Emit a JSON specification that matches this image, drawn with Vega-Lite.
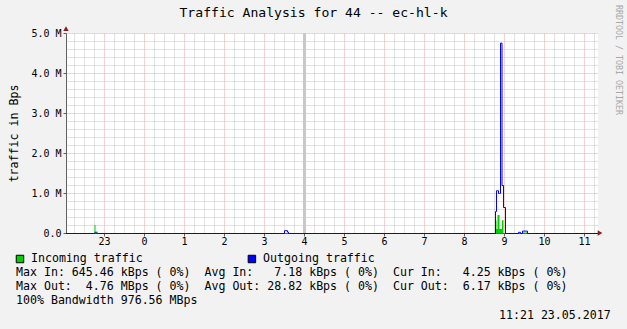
{
  "$schema": "https://vega.github.io/schema/vega-lite/v6.json",
  "width": 532,
  "height": 200,
  "autosize": {"type": "none"},
  "padding": {"left": 66, "top": 33, "right": 29, "bottom": 96},
  "background": "#f2f2f2",
  "config": {"view": {"fill": "#ffffff", "stroke": null}, "font": "DejaVu Sans Mono"},
  "datasets": {
    "traffic": [
      {"t": -1.95, "in": 0, "out": 0},
      {"t": -1.2375, "in": 200000, "out": 15000},
      {"t": -1.2125, "in": 40000, "out": 10000},
      {"t": -1.1625, "in": 0, "out": 0},
      {"t": 3.5125, "in": 0, "out": 70000},
      {"t": 3.5875, "in": 0, "out": 35000},
      {"t": 3.6125, "in": 0, "out": 0},
      {"t": 8.7875, "in": 310000, "out": 550000},
      {"t": 8.8125, "in": 100000, "out": 1070000},
      {"t": 8.8375, "in": 450000, "out": 1070000},
      {"t": 8.8625, "in": 450000, "out": 1000000},
      {"t": 8.8875, "in": 100000, "out": 1000000},
      {"t": 8.9125, "in": 100000, "out": 4760000},
      {"t": 8.95, "in": 320000, "out": 1200000},
      {"t": 8.9875, "in": 0, "out": 650000},
      {"t": 9.0375, "in": 0, "out": 0},
      {"t": 9.3625, "in": 0, "out": 30000},
      {"t": 9.4125, "in": 0, "out": 0},
      {"t": 9.4625, "in": 10000, "out": 60000},
      {"t": 9.5875, "in": 0, "out": 0},
      {"t": 11.35, "in": 4250, "out": 6170}
    ],
    "band": [{"start": 3.975, "end": 4.05}],
    "legendText": [
      {"col": 2.14, "line": 0, "text": "Incoming traffic"},
      {"col": 35.3, "line": 0, "text": "Outgoing traffic"},
      {"col": 0, "line": 1, "text": "Max In: 645.46 kBps ( 0%)\u00a0\u00a0Avg In:\u00a0\u00a0\u00a07.18 kBps ( 0%)\u00a0\u00a0Cur In:\u00a0\u00a0\u00a04.25 kBps ( 0%)"},
      {"col": 0, "line": 2, "text": "Max Out:\u00a0\u00a04.76 MBps ( 0%)\u00a0\u00a0Avg Out: 28.82 kBps ( 0%)\u00a0\u00a0Cur Out:\u00a0\u00a06.17 kBps ( 0%)"},
      {"col": 0, "line": 3, "text": "100% Bandwidth 976.56 MBps"},
      {"col": 69, "line": 4.07, "text": "11:21 23.05.2017"}
    ],
    "legendBoxes": [
      {"col": 0.57, "line": 0, "series": "Incoming traffic"},
      {"col": 33.7, "line": 0, "series": "Outgoing traffic"}
    ],
    "titleText": [{"col": 42.5, "line": -17.57, "text": "Traffic Analysis for 44 -- ec-hl-k"}],
    "watermark": [{"col": 86.0, "line": -18.14, "text": "RRDTOOL / TOBI OETIKER"}]
  },
  "layer": [
    {
      "data": {"name": "band"},
      "mark": {"type": "rect", "color": "#c8c8c8"},
      "encoding": {
        "x": {"field": "start", "type": "quantitative", "scale": {"domain": [-1.95, 11.35], "nice": false, "zero": false},
          "axis": {"orient": "bottom", "values": [-1.75,-1.5,-1.25,-0.75,-0.5,-0.25,0.25,0.5,0.75,1.25,1.5,1.75,2.25,2.5,2.75,3.25,3.5,3.75,4.25,4.5,4.75,5.25,5.5,5.75,6.25,6.5,6.75,7.25,7.5,7.75,8.25,8.5,8.75,9.25,9.5,9.75,10.25,10.5,10.75,11.25],
            "grid": true, "gridColor": "#c4c4c4", "gridDash": [1, 1], "labels": false, "ticks": false, "domain": false, "title": null}},
        "x2": {"field": "end"},
        "y": {"datum": 0, "type": "quantitative", "scale": {"domain": [0, 5000000], "nice": false},
          "axis": {"orient": "left", "values": [200000,400000,600000,800000,1200000,1400000,1600000,1800000,2200000,2400000,2600000,2800000,3200000,3400000,3600000,3800000,4200000,4400000,4600000,4800000],
            "grid": true, "gridColor": "#c4c4c4", "gridDash": [1, 1], "labels": false, "ticks": false, "domain": false, "title": null}},
        "y2": {"datum": 5000000}
      }
    },
    {
      "data": {"name": "traffic"},
      "mark": {"type": "area", "interpolate": "step-after", "color": "#00cf00"},
      "encoding": {
        "x": {"field": "t", "type": "quantitative", "scale": {"domain": [-1.95, 11.35], "nice": false, "zero": false},
          "axis": {"orient": "bottom", "values": [-1,0,1,2,3,4,5,6,7,8,9,10,11],
            "labelExpr": "datum.value < 0 ? datum.value + 24 : datum.value",
            "grid": true, "gridColor": "#e9a6a6", "gridDash": [1, 1],
            "domainColor": "#606060", "tickColor": "#606060", "tickSize": 3,
            "labelFont": "DejaVu Sans Mono", "labelFontSize": 10, "labelColor": "#000000",
            "labelPadding": 0, "labelDx": 2, "labelFlush": false, "labelOverlap": false, "title": null}},
        "y": {"field": "in", "type": "quantitative", "scale": {"domain": [0, 5000000], "nice": false},
          "axis": {"orient": "left", "values": [0,1000000,2000000,3000000,4000000,5000000],
            "labelExpr": "datum.value == 0 ? '0.0' : format(datum.value / 1000000, '.1f') + ' M'",
            "grid": true, "gridColor": "#e9a6a6", "gridDash": [1, 1],
            "domainColor": "#606060", "tickColor": "#606060", "tickSize": 3,
            "labelFont": "DejaVu Sans Mono", "labelFontSize": 10, "labelColor": "#000000", "labelPadding": 2,
            "title": "traffic in Bps", "titleFont": "DejaVu Sans Mono", "titleFontSize": 11.6, "titleFontWeight": "normal",
            "titleColor": "#000000", "titlePadding": 11}}
      }
    },
    {
      "data": {"name": "traffic"},
      "mark": {"type": "line", "interpolate": "step-after", "color": "#0000ff", "strokeWidth": 1, "yOffset": 0.5},
      "encoding": {
        "x": {"field": "t", "type": "quantitative", "scale": {"domain": [-1.95, 11.35], "nice": false, "zero": false}, "axis": null},
        "y": {"field": "out", "type": "quantitative", "scale": {"domain": [0, 5000000], "nice": false}, "axis": null}
      }
    },
    {
      "data": {"values": [{"axis": "y"}]},
      "mark": {"type": "point", "shape": "triangle-up", "filled": true, "color": "#8b1a1a", "size": 28, "opacity": 1},
      "encoding": {
        "x": {"datum": -1.95, "type": "quantitative", "scale": {"domain": [-1.95, 11.35], "nice": false, "zero": false}, "axis": null},
        "y": {"datum": 5110000, "type": "quantitative", "scale": {"domain": [0, 5000000], "nice": false}, "axis": null}
      }
    },
    {
      "data": {"values": [{"axis": "x"}]},
      "mark": {"type": "point", "shape": "triangle-right", "filled": true, "color": "#8b1a1a", "size": 28, "opacity": 1},
      "encoding": {
        "x": {"datum": 11.4, "type": "quantitative", "scale": {"domain": [-1.95, 11.35], "nice": false, "zero": false}, "axis": null},
        "y": {"datum": 0, "type": "quantitative", "scale": {"domain": [0, 5000000], "nice": false}, "axis": null}
      }
    },
    {
      "data": {"name": "legendText"},
      "mark": {"type": "text", "align": "left", "baseline": "middle", "font": "DejaVu Sans Mono", "fontSize": 11.6, "color": "#000000"},
      "encoding": {
        "x": {"field": "col", "type": "quantitative", "scale": {"domain": [0, 85], "range": [-50, 545], "zero": false, "nice": false}, "axis": null},
        "y": {"field": "line", "type": "quantitative", "scale": {"domain": [0, 4], "range": [226, 282], "zero": false, "nice": false}, "axis": null},
        "text": {"field": "text"}
      }
    },
    {
      "data": {"name": "legendBoxes"},
      "mark": {"type": "point", "shape": "square", "filled": true, "size": 56, "stroke": "#000000", "strokeWidth": 1, "opacity": 1},
      "encoding": {
        "x": {"field": "col", "type": "quantitative", "scale": {"domain": [0, 85], "range": [-50, 545], "zero": false, "nice": false}, "axis": null},
        "y": {"field": "line", "type": "quantitative", "scale": {"domain": [0, 4], "range": [226, 282], "zero": false, "nice": false}, "axis": null},
        "fill": {"field": "series", "type": "nominal", "scale": {"domain": ["Incoming traffic", "Outgoing traffic"], "range": ["#00cf00", "#0000ff"]}, "legend": null}
      }
    },
    {
      "data": {"name": "titleText"},
      "mark": {"type": "text", "align": "center", "baseline": "middle", "font": "DejaVu Sans Mono", "fontSize": 13.1, "color": "#000000"},
      "encoding": {
        "x": {"field": "col", "type": "quantitative", "scale": {"domain": [0, 85], "range": [-50, 545], "zero": false, "nice": false}, "axis": null},
        "y": {"field": "line", "type": "quantitative", "scale": {"domain": [0, 4], "range": [226, 282], "zero": false, "nice": false}, "axis": null},
        "text": {"field": "text"}
      }
    },
    {
      "data": {"name": "watermark"},
      "mark": {"type": "text", "align": "left", "baseline": "middle", "angle": 90, "font": "DejaVu Sans Mono", "fontSize": 8.3, "color": "#a8a8a8"},
      "encoding": {
        "x": {"field": "col", "type": "quantitative", "scale": {"domain": [0, 85], "range": [-50, 545], "zero": false, "nice": false}, "axis": null},
        "y": {"field": "line", "type": "quantitative", "scale": {"domain": [0, 4], "range": [226, 282], "zero": false, "nice": false}, "axis": null},
        "text": {"field": "text"}
      }
    }
  ],
  "resolve": {"scale": {"x": "independent", "y": "independent", "fill": "independent"}, "axis": {"x": "independent", "y": "independent"}}
}
